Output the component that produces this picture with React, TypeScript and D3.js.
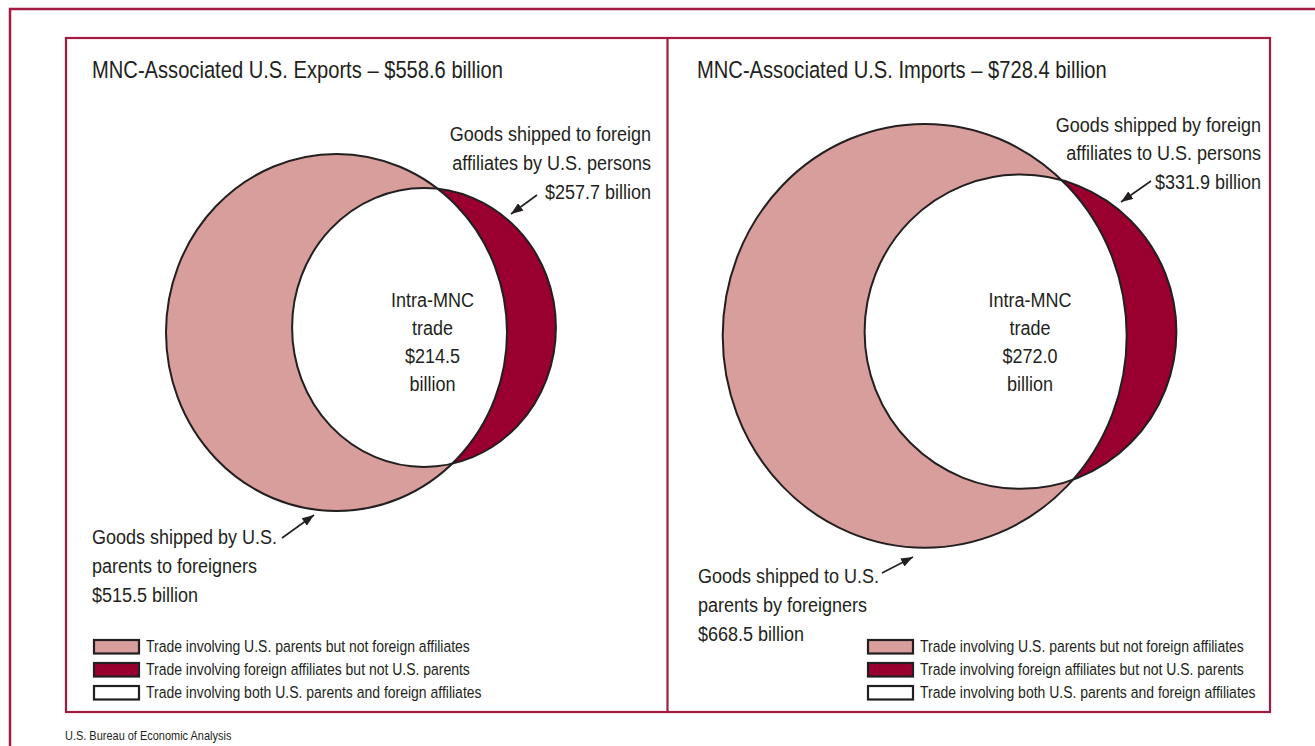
import * as d3 from 'd3';

// Trade values, billions of dollars
const panelKeys = ['exports', 'imports'];
const panelTitles = [
  'MNC-Associated U.S. Exports – $558.6 billion',
  'MNC-Associated U.S. Imports – $728.4 billion',
];
const parentValues = [515.5, 668.5];
const affiliateValues = [257.7, 331.9];
const intraValues = [214.5, 272.0];

const parentLabels = [
  ['Goods shipped by U.S.', 'parents to foreigners', '$515.5 billion'],
  ['Goods shipped to U.S.', 'parents by foreigners', '$668.5 billion'],
];
const affiliateLabels = [
  ['Goods shipped to foreign', 'affiliates by U.S. persons', '$257.7 billion'],
  ['Goods shipped by foreign', 'affiliates to U.S. persons', '$331.9 billion'],
];
const legendLabels = [
  'Trade involving U.S. parents but not foreign affiliates',
  'Trade involving foreign affiliates but not U.S. parents',
  'Trade involving both U.S. parents and foreign affiliates',
];
const sourceNote = 'U.S. Bureau of Economic Analysis';

const WIDTH = 1315;
const HEIGHT = 746;
const FONT = "'Liberation Sans', Arial, Helvetica, sans-serif";
const CONDENSE = 0.858; // the original uses a condensed Helvetica
const INK = '#231f20';
const PINK = '#d89e9b';
const CRIMSON = '#990030';
const FRAME = '#a31c40';

// panel layout (pixels)
const layout = [
  {
    titleX: 92,
    parent: { cx: 336.5, cy: 332.5, rx: 170.5, aspect: 1.047 },
    affiliate: { cx: 424, cy: 327.5, aspect: 1.057 },
    intraX: 432.5,
    affLabel: { x: 651, y: 141, anchor: 'end', tail: [537, 195], tip: [511, 214] },
    parLabel: { x: 92, y: 544, anchor: 'start', tail: [282, 538], tip: [314, 515] },
    legend: { x: 93, y: 639 },
  },
  {
    titleX: 697,
    parent: { cx: 924.7, cy: 335.8, rx: 202, aspect: 1.049 },
    affiliate: { cx: 1020.5, cy: 331.7, aspect: 1.008 },
    intraX: 1030,
    affLabel: { x: 1261, y: 131.5, anchor: 'end', tail: [1151, 181], tip: [1121, 202] },
    parLabel: { x: 698, y: 583, anchor: 'start', tail: [882, 573], tip: [913, 557] },
    legend: { x: 867, y: 639 },
  },
];

const LINE_H = 28.8;
const legendFills = [PINK, CRIMSON, '#ffffff'];

function CText({ x, y, size, anchor = 'start', children }: {
  x: number; y: number; size: number; anchor?: string; children: string;
}) {
  return (
    <text
      transform={`translate(${x},${y}) scale(${CONDENSE},1)`}
      textAnchor={anchor}
      fontSize={size}
      fill={INK}
    >
      {children}
    </text>
  );
}

export default function App() {
  const line = d3.line();

  return (
    <svg
      width={WIDTH}
      height={HEIGHT}
      style={{ position: 'absolute', left: 0, top: 0, background: '#fff' }}
      fontFamily={FONT}
    >
      <defs>
        <marker
          id="arrow"
          viewBox="0 0 12 9"
          refX="12"
          refY="4.5"
          markerWidth="12"
          markerHeight="9"
          markerUnits="userSpaceOnUse"
          orient="auto"
        >
          <path d="M0,0 L12,4.5 L0,9 Z" fill={INK} />
        </marker>
      </defs>

      {/* outer frame */}
      <rect x={10} y={9} width={WIDTH + 40} height={HEIGHT + 40} fill="none" stroke={FRAME} strokeWidth={2.5} />
      {/* panel frame + divider */}
      <rect x={66} y={38} width={1204} height={674} fill="none" stroke={FRAME} strokeWidth={2.2} />
      <line x1={667.5} x2={667.5} y1={38} y2={712} stroke={FRAME} strokeWidth={2.2} />

      {panelKeys.map((key, i) => {
        const L = layout[i];
        // radius scale fitted to the published diagram
        const rScale = d3.scalePow().exponent(0.37).domain([0, parentValues[i]]).range([0, L.parent.rx]);
        const pr = rScale(parentValues[i]);
        const ar = rScale(affiliateValues[i]);
        const p = { cx: L.parent.cx, cy: L.parent.cy, rx: pr, ry: pr * L.parent.aspect };
        const a = { cx: L.affiliate.cx, cy: L.affiliate.cy, rx: ar, ry: ar * L.affiliate.aspect };
        const clipId = `clip-${key}`;
        const intraLines = ['Intra-MNC', 'trade', `$${intraValues[i].toFixed(1)}`, 'billion'];

        return (
          <g key={key}>
            <CText x={L.titleX} y={78} size={23.5}>{panelTitles[i]}</CText>

            <clipPath id={clipId}>
              <ellipse cx={p.cx} cy={p.cy} rx={p.rx} ry={p.ry} />
            </clipPath>

            <ellipse {...p} fill={PINK} />
            <ellipse {...a} fill={CRIMSON} />
            <ellipse {...a} fill="#fff" clipPath={`url(#${clipId})`} />
            <ellipse {...p} fill="none" stroke={INK} strokeWidth={2} />
            <ellipse {...a} fill="none" stroke={INK} strokeWidth={2} />

            {intraLines.map((t, j) => (
              <CText key={j} x={L.intraX} y={306.5 + j * 28.3} size={21} anchor="middle">{t}</CText>
            ))}

            {affiliateLabels[i].map((t, j) => (
              <CText key={j} x={L.affLabel.x} y={L.affLabel.y + j * LINE_H} size={21} anchor={L.affLabel.anchor}>{t}</CText>
            ))}
            <path d={line([L.affLabel.tail, L.affLabel.tip] as [number, number][]) ?? ''} stroke={INK} strokeWidth={1.6} markerEnd="url(#arrow)" />

            {parentLabels[i].map((t, j) => (
              <CText key={j} x={L.parLabel.x} y={L.parLabel.y + j * LINE_H} size={21} anchor={L.parLabel.anchor}>{t}</CText>
            ))}
            <path d={line([L.parLabel.tail, L.parLabel.tip] as [number, number][]) ?? ''} stroke={INK} strokeWidth={1.6} markerEnd="url(#arrow)" />

            {legendLabels.map((t, j) => (
              <g key={j} transform={`translate(${L.legend.x},${L.legend.y + j * 23})`}>
                <rect x={1} y={1} width={45} height={13.5} fill={legendFills[j]} stroke={INK} strokeWidth={2.2} />
                <CText x={53} y={13} size={16.3}>{t}</CText>
              </g>
            ))}
          </g>
        );
      })}

      <CText x={65} y={740} size={12.8}>{sourceNote}</CText>
    </svg>
  );
}
